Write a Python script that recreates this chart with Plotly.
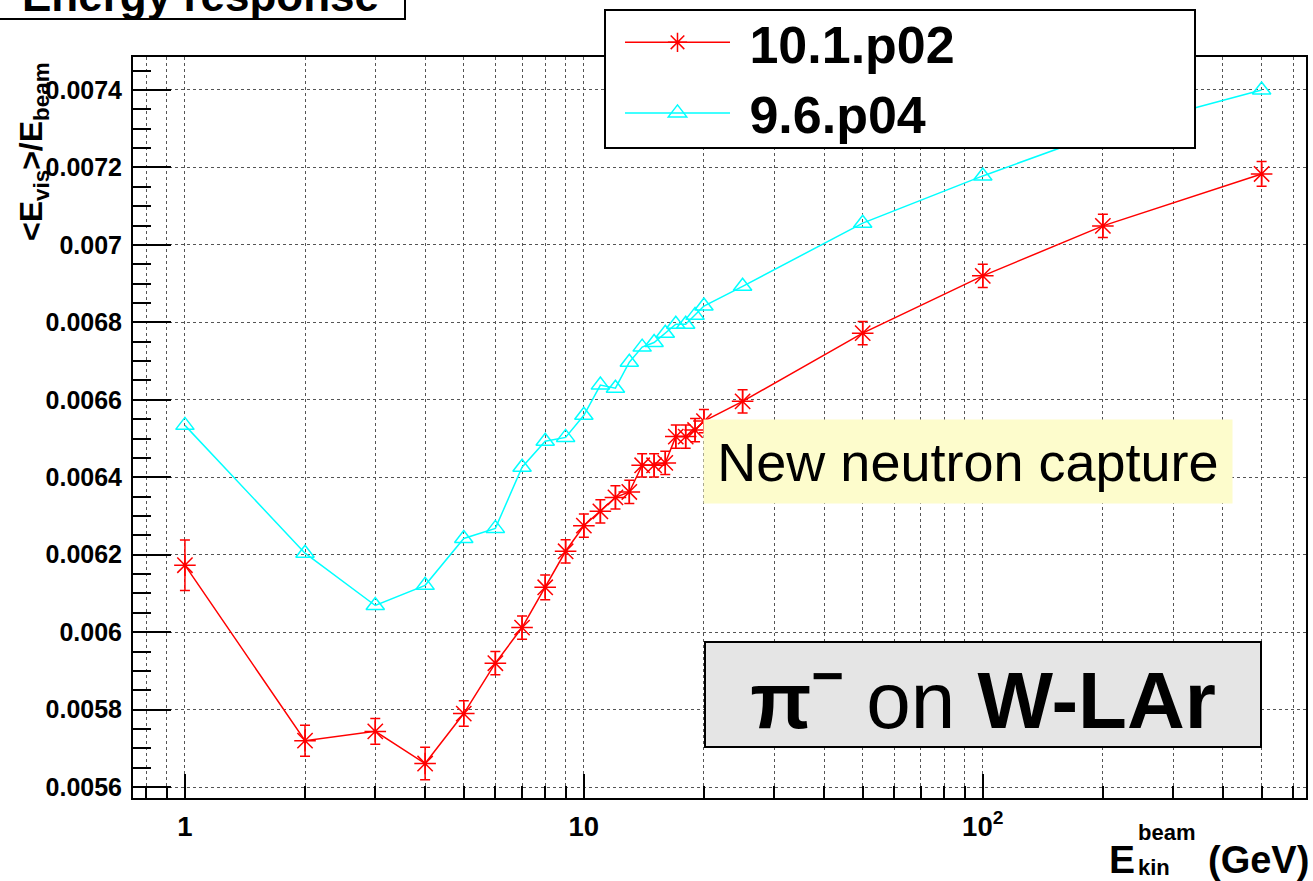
import plotly.graph_objects as go
import math

# ---------------- data ----------------
energy = [1, 2, 3, 4, 5, 6, 7, 8, 9, 10, 11, 12, 13, 14, 15, 16, 17, 18, 19, 20, 25, 50, 100, 200, 500]

resp_10_1_p02 = [0.006173, 0.005720, 0.005744, 0.005661, 0.005790, 0.005920, 0.006012, 0.006116,
                 0.006209, 0.006275, 0.006312, 0.006348, 0.006362, 0.006431, 0.006431, 0.006437,
                 0.006505, 0.006505, 0.006522, 0.006545, 0.006596, 0.006772, 0.006920, 0.007049,
                 0.007183]
err_10_1_p02 = [0.000065, 0.000040, 0.000033, 0.000042, 0.000033, 0.000030, 0.000030, 0.000032,
                0.000030, 0.000030, 0.000030, 0.000030, 0.000030, 0.000030, 0.000030, 0.000030,
                0.000030, 0.000030, 0.000030, 0.000030, 0.000030, 0.000030, 0.000030, 0.000030,
                0.000032]

resp_9_6_p04 = [0.006534, 0.006204, 0.006069, 0.006121, 0.006242, 0.006268, 0.006426, 0.006493,
                0.006503, 0.006560, 0.006638, 0.006630, 0.006697, 0.006736, 0.006748, 0.006772,
                0.006795, 0.006795, 0.006818, 0.006842, 0.006893, 0.007056, 0.007178, 0.007290,
                0.007400]

series_names = ["10.1.p02", "9.6.p04"]
y_tick_step = 0.0002

# ---------------- figure ----------------
W, H = 1313, 881
ML, MR, MT, MB = 133, 7, 57, 83
PW, PH = W - ML - MR, H - MT - MB


def px_x(x):
    return (x - ML) / PW


def px_y(y):
    return 1 - (y - MT) / PH


FONT = "Liberation Sans, Arial, Helvetica, sans-serif"
NB = "\u00a0"

fig = go.Figure()
fig.add_trace(go.Scatter(
    x=energy, y=resp_10_1_p02, name=NB + series_names[0], mode="lines+markers",
    line=dict(color="#ff0000", width=1.5),
    marker=dict(symbol="asterisk-open", size=18, color="#ff0000",
                line=dict(color="#ff0000", width=1.5)),
    error_y=dict(type="data", array=err_10_1_p02, color="#ff0000", thickness=1.5, width=5),
))
fig.add_trace(go.Scatter(
    x=energy, y=resp_9_6_p04, name=NB + series_names[1], mode="lines+markers",
    line=dict(color="#00ffff", width=1.5),
    marker=dict(symbol="triangle-up-open", size=16, color="#00ffff",
                line=dict(color="#00ffff", width=1.5)),
))

grid = dict(showgrid=True, griddash="dot", gridcolor="#555555", gridwidth=1)

fig.update_xaxes(
    type="log", range=[math.log10(0.741), math.log10(646)],
    tickmode="linear", tick0=0, dtick=1, exponentformat="power",
    ticks="inside", ticklen=24, tickwidth=2, tickcolor="black",
    showline=True, linecolor="black", linewidth=2, mirror=True, zeroline=False,
    tickfont=dict(family=FONT, size=22, color="black", weight="bold"),
    ticklabelstandoff=4,
    minor=dict(ticks="inside", ticklen=12, tickwidth=1.5, tickcolor="black",
               dtick="D1", **grid),
    **grid,
)
fig.update_yaxes(
    range=[0.005572, 0.007485], tickmode="linear", tick0=0.0056, dtick=y_tick_step,
    tickformat=".4~f",
    ticks="inside", ticklen=38, tickwidth=2, tickcolor="black",
    showline=True, linecolor="black", linewidth=2, mirror=True, zeroline=False,
    tickfont=dict(family=FONT, size=25, color="black", weight="bold"),
    ticklabelstandoff=4,
    minor=dict(ticks="inside", ticklen=18, tickwidth=1.5, tickcolor="black",
               tick0=0.0056, dtick=0.00005, showgrid=False),
    **grid,
)

annotations = [
    # cropped title
    dict(text="<b>Energy response</b>", x=px_x(20), y=1 + (MT + 5) / PH, xref="paper", yref="paper",
         xanchor="left", yanchor="middle", showarrow=False,
         font=dict(family=FONT, size=44, color="black")),
    # y-axis title
    dict(text="<b>&lt;E<sub>vis</sub>&gt;/E<sub>beam</sub></b>", x=px_x(33), y=px_y(152),
         xref="paper", yref="paper", textangle=-90, showarrow=False,
         xanchor="center", yanchor="middle",
         font=dict(family=FONT, size=32, color="black")),
    # x-axis title pieces
    dict(text="<b>E</b>", x=px_x(1137), y=px_y(860), xref="paper", yref="paper",
         xanchor="right", yanchor="middle", showarrow=False,
         font=dict(family=FONT, size=39, color="black")),
    dict(text="<b>beam</b>", x=px_x(1136), y=px_y(833), xref="paper", yref="paper",
         xanchor="left", yanchor="middle", showarrow=False,
         font=dict(family=FONT, size=22, color="black")),
    dict(text="<b>kin</b>", x=px_x(1136), y=px_y(867), xref="paper", yref="paper",
         xanchor="left", yanchor="middle", showarrow=False,
         font=dict(family=FONT, size=22, color="black")),
    dict(text="<b>(GeV)</b>", x=px_x(1311), y=px_y(860), xref="paper", yref="paper",
         xanchor="right", yanchor="middle", showarrow=False,
         font=dict(family=FONT, size=38, color="black")),
    # yellow note
    dict(text="New neutron capture", x=px_x(968), y=px_y(461.5), xref="paper", yref="paper",
         xanchor="center", yanchor="middle", showarrow=False,
         width=528, height=83, borderpad=0, bgcolor="#fdfccc",
         font=dict(family=FONT, size=54, color="black")),
    # grey box
    dict(text="<b>π</b><sup><b>−</b></sup> on <b>W-LAr</b>", x=px_x(983), y=px_y(694.5),
         xref="paper", yref="paper", xanchor="center", yanchor="middle", showarrow=False,
         width=554, height=103, borderpad=0, bgcolor="#e5e5e5",
         bordercolor="black", borderwidth=2,
         font=dict(family=FONT, size=80, color="black")),
]

shapes = [
    # title box (cropped at top)
    dict(type="rect", xref="paper", yref="paper",
         x0=px_x(-10), x1=px_x(405), y0=px_y(19), y1=px_y(-40),
         fillcolor="white", line=dict(color="black", width=2), layer="above"),
    # legend box
    dict(type="rect", xref="paper", yref="paper",
         x0=px_x(605), x1=px_x(1195), y0=px_y(148), y1=px_y(10),
         fillcolor="white", line=dict(color="black", width=2), layer="above"),
]

fig.update_layout(
    width=W, height=H, autosize=False,
    margin=dict(l=ML, r=MR, t=MT, b=MB, pad=0, autoexpand=False),
    paper_bgcolor="white", plot_bgcolor="white",
    showlegend=True,
    legend=dict(
        x=px_x(620), y=px_y(2), xanchor="left", yanchor="top",
        bgcolor="rgba(0,0,0,0)", borderwidth=0,
        font=dict(family=FONT, size=52, color="black", weight="bold"),
        itemwidth=105, tracegroupgap=0,
    ),
    annotations=annotations,
    shapes=shapes,
)

fig.write_html("out.html")
